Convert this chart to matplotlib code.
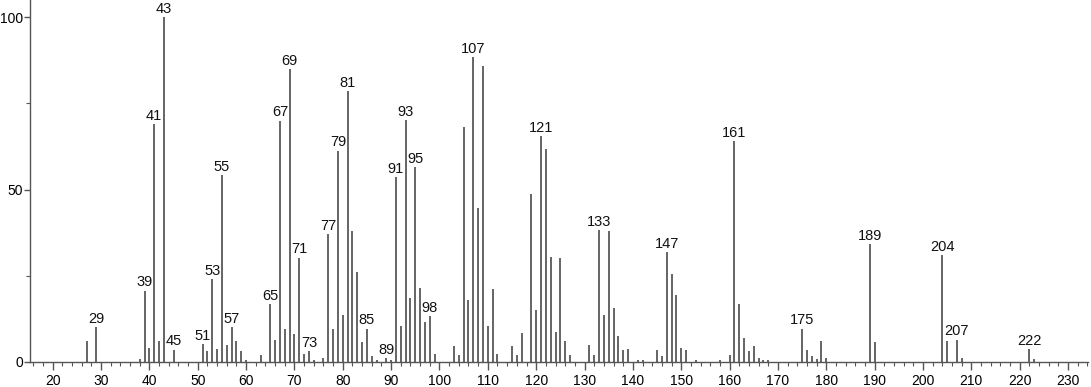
import matplotlib.pyplot as plt
import numpy as np

# mass spectrum: m/z and relative intensity (%)
mz = [27, 29, 38, 39, 40, 41, 42, 43, 45, 51, 52, 53, 54, 55, 56, 57, 58, 59, 60,
      63, 65, 66, 67, 68, 69, 70, 71, 72, 73, 74, 76, 77, 78, 79, 80, 81, 82, 83,
      84, 85, 86, 87, 89, 90, 91, 92, 93, 94, 95, 96, 97, 98, 99, 103, 104, 105,
      106, 107, 108, 109, 110, 111, 112, 115, 116, 117, 119, 120, 121, 122, 123,
      124, 125, 126, 127, 131, 132, 133, 134, 135, 136, 137, 138, 139, 141, 142,
      145, 146, 147, 148, 149, 150, 151, 153, 158, 160, 161, 162, 163, 164, 165,
      166, 167, 168, 175, 176, 177, 178, 179, 180, 189, 190, 204, 205, 207, 208,
      222, 223]
intensity = [6.0, 10.1, 1.0, 20.7, 4.1, 69.0, 6.0, 100, 3.6, 5.2, 3.3, 24.1, 3.9,
             54.1, 5.0, 10.1, 6.0, 3.3, 0.7, 2.1, 16.9, 6.5, 70.0, 9.6, 85.0, 8.1,
             30.3, 2.4, 3.1, 0.7, 1.2, 37.2, 9.6, 61.3, 13.7, 78.7, 38.1, 26.1, 5.8,
             9.7, 1.6, 0.6, 1.2, 0.7, 53.6, 10.3, 70.2, 18.7, 56.5, 21.4, 11.6, 13.4,
             2.4, 4.7, 2.1, 68.3, 18.1, 88.4, 44.6, 85.9, 10.3, 21.2, 2.4, 4.7, 2.1,
             8.4, 48.7, 15.2, 65.6, 61.8, 30.6, 8.6, 30.1, 6.0, 2.1, 5.0, 2.1, 38.3,
             13.7, 38.0, 15.6, 7.6, 3.4, 3.8, 0.7, 0.7, 3.6, 1.8, 31.9, 25.6, 19.3,
             4.1, 3.4, 0.7, 0.7, 2.1, 64.1, 16.9, 7.0, 3.3, 4.7, 1.2, 0.7, 0.7, 9.7,
             3.6, 1.6, 0.9, 6.0, 1.2, 34.2, 5.8, 31.0, 6.2, 6.5, 1.2, 3.8, 0.9]
labelled = [29, 39, 41, 43, 45, 51, 53, 55, 57, 65, 67, 69, 71, 73, 77, 79, 81, 85,
            89, 91, 93, 95, 98, 107, 121, 133, 147, 161, 175, 189, 204, 207, 222]

plt.rcParams['font.family'] = ['Liberation Sans', 'DejaVu Sans']

fig = plt.figure(figsize=(10.91, 3.87), dpi=100)
ax = fig.add_axes([0.0275, 0.0646, 0.97, 0.9354])

ax.vlines(mz, 0, intensity, color='#3a3a3a', linewidth=1.1)
for m, v in zip(mz, intensity):
    if m in labelled:
        ax.annotate(str(m), (m, v), xytext=(0, 3), textcoords='offset points',
                    ha='center', va='baseline', fontsize=10.5, color='#111111')

ax.set_xlim(15.3, 234.2)
ax.set_ylim(0, 105)
ax.set_xticks(np.arange(20, 231, 10))
ax.set_xticks(np.arange(16, 235, 2), minor=True)
ax.set_yticks([0, 50, 100])
ax.set_yticks([25, 75], minor=True)

for s in ['top', 'right']:
    ax.spines[s].set_visible(False)
for s in ['left', 'bottom']:
    ax.spines[s].set_color('#555555')
    ax.spines[s].set_linewidth(1.0)
ax.tick_params(axis='x', which='major', length=6, width=1.0, color='#555555',
               labelsize=10, pad=2.5)
ax.tick_params(axis='y', which='major', length=4, width=1.0, color='#555555',
               labelsize=10, pad=1)
ax.tick_params(axis='both', which='minor', length=3, width=0.8, color='#555555')

fig.savefig('out.png', dpi=100)
